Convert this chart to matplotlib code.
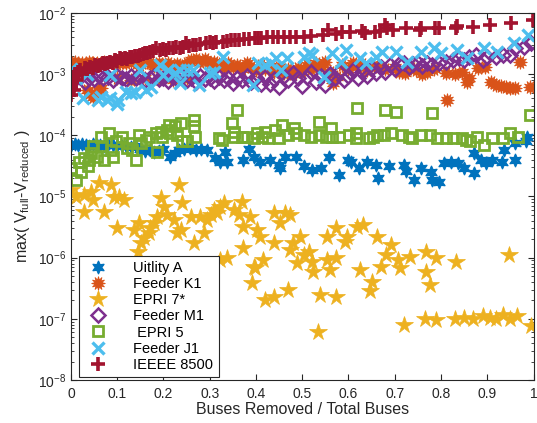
import matplotlib
matplotlib.use("Agg")
import matplotlib.pyplot as plt

plt.rcParams['font.family'] = ['Liberation Sans', 'DejaVu Sans']
plt.rcParams['mathtext.fontset'] = 'custom'
plt.rcParams['mathtext.rm'] = 'Liberation Sans'
plt.rcParams['mathtext.it'] = 'Liberation Sans:italic'

# ---------------- data ----------------
ua_x = [0.000,0.008,0.016,0.024,0.032,0.040,0.048,0.056,0.064,0.072,0.080,
        0.090,0.100,0.110,0.120,0.130,0.140,0.150,0.160,0.170,0.180,0.190,0.200,
        0.215,0.225,0.233,0.245,0.258,0.270,0.282,0.295,
        0.312,0.323,0.334,0.337,
        0.373,0.384,0.395,0.409,0.431,0.449,0.452,0.463,0.486,
        0.504,0.522,0.540,0.558,0.580,0.598,0.605,0.623,0.641,0.659,0.663,0.688,
        0.720,0.724,0.742,0.756,0.778,0.781,0.796,0.807,0.821,0.836,0.850,0.872,
        0.872,0.886,0.897,0.911,0.932,0.936,0.961,0.961,0.983,0.986]
ua_y = [7.0e-5,7.2e-5,6.9e-5,7.1e-5,7.0e-5,6.8e-5,7.2e-5,6.9e-5,7.0e-5,6.8e-5,7.1e-5,
        6.9e-5,7.0e-5,6.6e-5,6.8e-5,6.5e-5,6.7e-5,6.0e-5,5.6e-5,5.8e-5,5.3e-5,5.5e-5,5.9e-5,
        4.5e-5,5.2e-5,5.8e-5,6.0e-5,6.2e-5,5.7e-5,6.0e-5,5.8e-5,
        4.2e-5,3.7e-5,5.4e-5,3.7e-5,
        4.0e-5,5.9e-5,4.45e-5,3.7e-5,4.0e-5,3.3e-5,2.9e-5,4.45e-5,4.45e-5,
        3.1e-5,2.7e-5,2.9e-5,4.45e-5,2.25e-5,4.0e-5,3.7e-5,2.9e-5,3.7e-5,3.3e-5,2.0e-5,3.1e-5,
        3.3e-5,2.6e-5,1.86e-5,2.9e-5,2.55e-5,1.86e-5,1.75e-5,3.5e-5,3.7e-5,3.5e-5,2.9e-5,2.4e-5,
        5.05e-5,4.0e-5,3.5e-5,4.0e-5,3.7e-5,5.75e-5,7.4e-5,4.0e-5,8.0e-5,9.5e-5]

k1_x = [0.000,0.008,0.016,0.024,0.032,0.040,0.048,0.056,0.064,0.072,0.080,0.090,
        0.100,0.110,0.120,0.130,0.140,0.150,0.160,0.170,0.180,0.190,0.200,0.210,
        0.220,0.230,0.240,0.250,0.260,0.270,0.280,0.290,0.300,0.310,
        0.034,0.048,0.059,0.066,0.040,
        0.100,0.130,0.160,0.190,0.220,0.250,
        0.320,0.330,0.340,0.350,0.360,0.370,0.380,0.390,0.400,0.410,0.420,0.430,
        0.440,0.450,0.460,0.470,0.480,0.490,0.500,0.510,0.520,0.530,0.540,0.550,
        0.560,0.567,0.575,0.585,0.600,0.610,0.620,0.630,0.640,0.655,
        0.665,0.680,0.700,0.710,0.723,0.735,0.745,0.758,0.770,0.785,0.810,0.812,
        0.830,0.845,0.857,0.860,0.881,0.896,0.909,0.920,0.930,0.940,0.950,0.960,
        0.971,0.993]
k1_y = [1.5e-3,1.6e-3,1.45e-3,1.55e-3,1.4e-3,1.6e-3,1.5e-3,1.55e-3,1.45e-3,1.6e-3,1.5e-3,1.65e-3,
        1.45e-3,1.6e-3,1.5e-3,1.65e-3,1.55e-3,1.4e-3,1.6e-3,1.5e-3,1.35e-3,1.55e-3,1.4e-3,1.5e-3,
        1.3e-3,1.45e-3,1.35e-3,1.5e-3,1.7e-3,1.8e-3,1.6e-3,1.75e-3,1.5e-3,1.6e-3,
        5.5e-4,4.3e-4,5.5e-4,5.9e-4,5.0e-4,
        8.5e-4,8.0e-4,8.8e-4,8.2e-4,8.0e-4,8.5e-4,
        1.45e-3,1.25e-3,1.55e-3,1.3e-3,1.4e-3,1.2e-3,1.5e-3,1.3e-3,1.15e-3,1.4e-3,1.2e-3,1.35e-3,
        1.1e-3,1.3e-3,1.05e-3,1.2e-3,1.0e-3,1.25e-3,1.1e-3,1.4e-3,1.2e-3,1.5e-3,1.3e-3,1.6e-3,
        1.1e-3,7.2e-4,9.0e-4,1.4e-3,1.2e-3,1.5e-3,1.3e-3,1.45e-3,1.15e-3,1.35e-3,
        1.3e-3,1.2e-3,1.32e-3,1.1e-3,1.03e-3,1.25e-3,1.17e-3,1.0e-3,1.1e-3,1.2e-3,1.03e-3,3.8e-4,
        1.0e-3,1.1e-3,7.5e-4,8.8e-4,1.27e-3,1.32e-3,7.5e-4,6.6e-4,6.4e-4,6.2e-4,6.0e-4,6.0e-4,
        1.6e-3,6.2e-4]

e7_x = [0.000,0.011,0.029,0.029,0.043,0.047,0.061,0.072,0.086,0.093,0.104,0.115,
        0.100,0.136,0.147,0.151,0.158,0.169,0.172,0.180,0.187,0.194,0.201,0.208,
        0.223,0.233,0.241,0.230,0.237,0.259,0.266,0.280,0.294,0.302,0.309,0.316,
        0.323,0.330,0.323,0.337,0.352,0.363,0.370,0.373,0.388,0.391,0.402,0.409,
        0.416,0.399,0.438,0.438,0.452,0.463,0.474,0.474,0.481,0.496,0.503,0.521,
        0.514,0.524,0.553,0.553,0.560,0.574,0.574,0.592,0.596,0.618,0.632,0.625,
        0.661,0.671,0.682,0.693,0.707,0.711,0.732,0.768,0.790,0.768,0.776,0.833,
        0.948,0.650,0.646,0.539,0.574,0.438,
        0.144,0.287,0.373,0.395,0.488,0.420,0.470,0.535,0.720,
        0.765,0.790,0.830,0.850,0.870,0.890,0.905,0.920,0.935,0.950,0.965,0.995]
e7_y = [1.28e-5,9.9e-6,1.06e-5,5.65e-6,1.2e-5,8.8e-6,1.64e-5,5.65e-6,1.54e-5,9.9e-6,9.9e-6,8.8e-6,
        3.0e-6,2.84e-6,3.65e-6,1.72e-6,2.07e-6,2.5e-6,3.0e-6,3.65e-6,4.7e-6,9.3e-6,6.8e-6,5.0e-6,
        4.1e-6,1.54e-5,7.75e-6,2.5e-6,2.84e-6,4.7e-6,1.72e-6,4.7e-6,4.1e-6,5.0e-6,6.0e-6,5.3e-6,
        6.8e-6,7.75e-6,9.2e-7,9.8e-7,6.0e-6,5.0e-6,8.2e-6,3.2e-6,4.7e-6,3.8e-7,2.84e-6,2.2e-6,
        9.2e-7,6.7e-7,5.3e-6,1.72e-6,3.65e-6,5.3e-6,5.0e-6,1.34e-6,1.72e-6,2.2e-6,1.1e-6,8.6e-7,
        1.25e-6,5.9e-7,2.2e-6,9.2e-7,6.3e-7,3.0e-6,9.8e-7,1.82e-6,2.2e-6,3.2e-6,3.4e-6,6.3e-7,
        2.2e-6,7.1e-7,1.1e-6,1.61e-6,9.2e-7,6.7e-7,1.04e-6,1.25e-6,9.8e-7,5.9e-7,3.6e-7,8.6e-7,
        1.1e-6,4.05e-7,2.8e-7,2.45e-7,2.3e-7,2.3e-7,
        1.25e-6,2.5e-6,1.42e-6,7.1e-7,8.1e-7,2.0e-7,3.0e-7,6.2e-8,7.8e-8,
        1.0e-7,9.5e-8,1.0e-7,1.05e-7,1.0e-7,1.1e-7,1.05e-7,1.0e-7,1.15e-7,1.0e-7,1.1e-7,7.5e-8]

m1_x = [0.00,0.01,0.02,0.03,0.04,0.05,0.06,0.07,0.08,0.09,0.10,0.11,0.12,0.13,0.14,
        0.15,0.16,0.17,0.18,0.19,0.20,0.21,0.22,0.23,0.24,0.25,0.26,0.27,0.28,0.29,
        0.30,0.31,0.32,0.33,0.34,0.35,0.36,0.37,0.38,0.39,0.40,0.41,0.42,0.43,0.44,
        0.45,0.46,0.47,0.48,0.49,0.50,0.51,0.52,0.53,0.54,0.55,0.56,0.57,0.58,0.59,
        0.60,0.61,0.62,0.63,0.64,0.65,0.66,0.67,0.68,0.69,0.70,0.71,0.72,0.73,0.74,
        0.75,0.76,0.77,0.78,0.795,0.81,0.825,0.84,0.85,0.86,0.875,0.89,0.90,0.92,
        0.935,0.95,0.96,0.98,0.995]
m1_y = [9.5e-4,8.5e-4,9.0e-4,7.5e-4,8.8e-4,8.2e-4,9.2e-4,8.5e-4,9.0e-4,8.0e-4,9.5e-4,8.8e-4,8.2e-4,9.2e-4,8.5e-4,
        9.0e-4,8.0e-4,8.8e-4,9.5e-4,8.2e-4,8.8e-4,7.8e-4,9.0e-4,8.2e-4,9.5e-4,8.0e-4,8.8e-4,7.5e-4,9.2e-4,8.2e-4,
        8.8e-4,7.8e-4,9.0e-4,8.0e-4,8.5e-4,7.2e-4,8.8e-4,8.0e-4,9.5e-4,7.5e-4,8.5e-4,7.0e-4,9.0e-4,6.8e-4,8.2e-4,
        6.2e-4,9.5e-4,8.0e-4,1.05e-3,8.5e-4,6.5e-4,9.0e-4,1.1e-3,7.5e-4,9.5e-4,6.6e-4,1.0e-3,8.5e-4,1.1e-3,8.0e-4,
        9.5e-4,1.15e-3,8.5e-4,1.1e-3,9.5e-4,1.25e-3,1.05e-3,1.3e-3,1.1e-3,1.4e-3,1.2e-3,1.45e-3,1.5e-3,1.3e-3,1.45e-3,
        1.5e-3,1.35e-3,1.5e-3,1.4e-3,1.5e-3,1.6e-3,1.7e-3,1.82e-3,1.7e-3,1.93e-3,2.06e-3,1.7e-3,1.93e-3,1.93e-3,
        2.06e-3,2.06e-3,2.65e-3,2.8e-3,3.2e-3]

e5_x = [0.000,0.011,0.018,0.022,0.029,0.036,0.040,0.043,0.047,0.057,0.065,0.068,
        0.072,0.083,0.086,0.090,0.097,0.111,0.122,0.126,0.133,0.140,0.147,0.151,
        0.162,0.169,0.183,0.187,0.194,0.197,0.208,0.212,0.215,0.226,0.230,0.237,
        0.241,0.251,0.266,0.266,0.269,0.320,0.327,0.348,0.352,0.359,0.352,0.370,
        0.381,0.395,0.402,0.413,0.420,0.427,0.442,0.449,0.456,0.470,
        0.483,0.486,0.504,0.519,0.537,0.537,0.551,0.562,0.565,0.580,0.601,0.616,
        0.616,0.619,0.644,0.652,0.662,0.677,0.680,0.691,0.702,0.716,0.730,0.738,
        0.756,0.777,0.781,0.792,0.810,0.827,0.845,0.853,0.863,0.878,0.892,0.910,
        0.935,0.950,0.967,0.993]
e5_y = [2.9e-5,1.86e-5,3.7e-5,2.55e-5,4.2e-5,3.1e-5,4.0e-5,5.05e-5,6.6e-5,4.45e-5,9.5e-5,6.6e-5,
        4.0e-5,1.1e-4,5.75e-5,4.45e-5,8.0e-5,9.5e-5,6.1e-5,7.4e-5,5.75e-5,4.0e-5,1.0e-4,7.4e-5,
        8.4e-5,9.5e-5,1.1e-4,5.4e-5,1.15e-4,9.5e-5,1.22e-4,1.48e-4,1.1e-4,1.4e-4,1.0e-4,1.57e-4,
        8.0e-5,8.0e-5,1.78e-4,1.4e-4,9.5e-5,8.9e-5,8.4e-5,1.57e-4,1.15e-4,2.6e-4,9.5e-5,9.5e-5,
        9.5e-5,8.9e-5,1.1e-4,9.5e-5,1.15e-4,8.9e-5,1.22e-4,8.9e-5,1.48e-4,1.0e-4,
        1.3e-4,1.1e-4,1.0e-4,9.5e-5,1.66e-4,1.0e-4,9.5e-5,1.3e-4,9.5e-5,9.5e-5,1.0e-4,1.1e-4,
        8.9e-5,2.8e-4,8.9e-5,9.5e-5,1.0e-4,1.0e-4,2.6e-4,1.1e-4,2.45e-4,1.0e-4,9.5e-5,8.9e-5,
        1.0e-4,1.0e-4,2.3e-4,8.9e-5,8.9e-5,8.9e-5,8.9e-5,8.4e-5,8.0e-5,9.5e-5,6.95e-5,8.9e-5,
        8.9e-5,1.1e-4,9.5e-5,2.15e-4]

j1_x = [0.000,0.000,0.005,0.012,0.035,0.027,0.059,0.066,0.077,0.084,0.099,0.101,
        0.084,0.120,0.131,0.138,0.149,0.163,0.174,0.192,0.199,0.210,0.224,0.235,
        0.250,0.264,0.235,0.278,0.300,0.310,0.328,0.393,0.404,0.420,0.433,0.443,
        0.454,0.468,0.504,0.515,0.522,0.547,0.565,0.583,0.594,0.626,0.637,0.659,
        0.673,0.702,0.727,0.756,0.784,0.799,0.835,0.856,0.892,0.921,0.957,0.989]
j1_y = [1.2e-3,9.0e-4,1.05e-3,8.5e-4,1.0e-3,4.0e-4,3.8e-4,4.2e-4,3.8e-4,4.0e-4,3.3e-4,3.8e-4,
        9.7e-4,5.2e-4,4.9e-4,5.2e-4,1.17e-3,5.5e-4,6.2e-4,1.41e-3,9.7e-4,1.17e-3,1.03e-3,1.17e-3,
        1.17e-3,1.17e-3,7.1e-4,6.65e-4,1.03e-3,1.1e-3,1.93e-3,6.65e-4,1.5e-3,1.4e-3,1.5e-3,1.82e-3,
        1.17e-3,1.82e-3,1.93e-3,2.19e-3,2.06e-3,9.1e-4,2.19e-3,1.6e-3,2.48e-3,1.82e-3,1.5e-3,1.93e-3,
        2.33e-3,2.33e-3,1.6e-3,2.33e-3,2.65e-3,2.19e-3,2.48e-3,1.82e-3,2.65e-3,2.33e-3,3.2e-3,4.37e-3]

ie_x = [0.000,0.000,0.002,0.004,0.006,0.008,0.012,0.016,0.020,0.025,0.030,0.035,
        0.041,0.047,0.053,0.058,0.063,0.069,0.074,0.079,0.084,0.090,0.095,0.100,
        0.106,0.111,0.117,0.122,0.127,0.133,0.138,0.144,0.149,0.155,0.160,0.165,
        0.170,0.178,0.185,0.193,0.200,0.206,0.213,0.220,0.228,0.235,0.242,0.249,
        0.256,0.264,0.271,0.280,0.293,0.300,0.307,0.314,0.328,0.337,0.346,0.355,
        0.364,0.375,0.385,0.397,0.404,0.411,0.423,0.436,0.448,0.461,0.474,0.486,
        0.504,0.520,0.544,0.555,0.573,0.587,0.603,0.630,0.636,0.657,0.668,0.679,
        0.684,0.697,0.725,0.754,0.756,0.786,0.795,0.833,0.835,0.869,0.907,0.951,0.998]
ie_y = [4.55e-4,6.0e-4,7.5e-4,9.0e-4,5.5e-4,1.0e-3,8.0e-4,1.1e-3,1.17e-3,1.0e-3,1.25e-3,1.2e-3,
        1.32e-3,1.25e-3,1.4e-3,1.35e-3,1.41e-3,1.5e-3,1.45e-3,1.55e-3,1.6e-3,1.55e-3,1.7e-3,1.65e-3,
        1.82e-3,1.75e-3,1.85e-3,1.8e-3,1.93e-3,1.9e-3,2.0e-3,1.95e-3,2.06e-3,2.1e-3,2.2e-3,2.25e-3,
        2.33e-3,2.4e-3,2.65e-3,2.5e-3,2.55e-3,2.48e-3,2.65e-3,2.65e-3,2.75e-3,2.7e-3,2.8e-3,3.2e-3,
        2.9e-3,3.0e-3,3.0e-3,3.1e-3,3.2e-3,3.3e-3,3.2e-3,3.4e-3,3.4e-3,3.5e-3,3.62e-3,3.6e-3,
        3.62e-3,3.7e-3,3.75e-3,3.86e-3,3.86e-3,3.86e-3,4.0e-3,4.1e-3,4.1e-3,4.1e-3,4.1e-3,4.1e-3,
        4.1e-3,4.2e-3,4.37e-3,5.3e-3,4.6e-3,4.8e-3,4.95e-3,5.1e-3,4.65e-3,4.95e-3,5.0e-3,6.36e-3,
        5.6e-3,5.3e-3,5.6e-3,5.3e-3,5.6e-3,5.6e-3,5.6e-3,5.6e-3,6.2e-3,5.97e-3,6.36e-3,6.8e-3,7.7e-3]

series_names = ['Uitlity A', 'Feeder K1', 'EPRI 7*', 'Feeder M1', ' EPRI 5', 'Feeder J1', 'IEEEE 8500']
x_ticks = [0, 0.1, 0.2, 0.3, 0.4, 0.5, 0.6, 0.7, 0.8, 0.9, 1]
x_tick_labels = ['0', '0.1', '0.2', '0.3', '0.4', '0.5', '0.6', '0.7', '0.8', '0.9', '1']

# ---------------- figure ----------------
fig = plt.figure(figsize=(5.37, 4.23), dpi=100)
ax = fig.add_axes([0.132, 0.1017, 0.8615, 0.8676])

styles = [
    dict(marker=(6, 1, 0), color='#0072BD', ms=9.5, mec='#0072BD', mew=0.8),
    dict(marker=(12, 1, 0), color='#D95319', ms=10, mec='#D95319', mew=0.6),
    dict(marker='*', color='#EDB120', ms=13, mec='#EDB120', mew=0.5),
    dict(marker='D', color='#7E2F8E', ms=7, mfc='none', mec='#7E2F8E', mew=1.8),
    dict(marker='s', color='#77AC30', ms=6.5, mfc='none', mec='#77AC30', mew=2.0),
    dict(marker='x', color='#4DBEEE', ms=8, mec='#4DBEEE', mew=2.4),
    dict(marker='+', color='#A2142F', ms=10, mec='#A2142F', mew=2.6),
]
data = [(ua_x, ua_y), (k1_x, k1_y), (e7_x, e7_y), (m1_x, m1_y),
        (e5_x, e5_y), (j1_x, j1_y), (ie_x, ie_y)]

for (xs, ys), st, name in zip(data, styles, series_names):
    ax.plot(xs, ys, linestyle='none', label=name, **st)

ax.set_yscale('log')
ax.set_xlim(0, 1)
ax.set_ylim(1e-8, 1e-2)
ax.set_xticks(x_ticks)
ax.set_xticklabels(x_tick_labels)

axis_col = '#262626'
for sp in ax.spines.values():
    sp.set_color(axis_col)
    sp.set_linewidth(0.8)
ax.tick_params(which='both', direction='in', top=True, right=True,
               colors=axis_col, labelsize=10)
ax.tick_params(which='major', length=4)
ax.tick_params(which='minor', length=2.2)
ax.tick_params(axis='x', pad=5)

ax.set_xlabel('Buses Removed / Total Buses', fontsize=11.5, color=axis_col, labelpad=1)
ax.set_ylabel(r'max( V$_{\mathregular{full}}$-V$_{\mathregular{reduced}}$ )',
              fontsize=11.5, color=axis_col, labelpad=4)

leg = ax.legend(loc='lower left', bbox_to_anchor=(0.017, 0.008), fontsize=10.5,
                frameon=True, fancybox=False, framealpha=1, edgecolor='#262626',
                borderpad=0.35, labelspacing=0.15, handlelength=2.0, handletextpad=1.4,
                borderaxespad=0)
leg.get_frame().set_linewidth(0.8)

fig.savefig('out.png', dpi=100)
